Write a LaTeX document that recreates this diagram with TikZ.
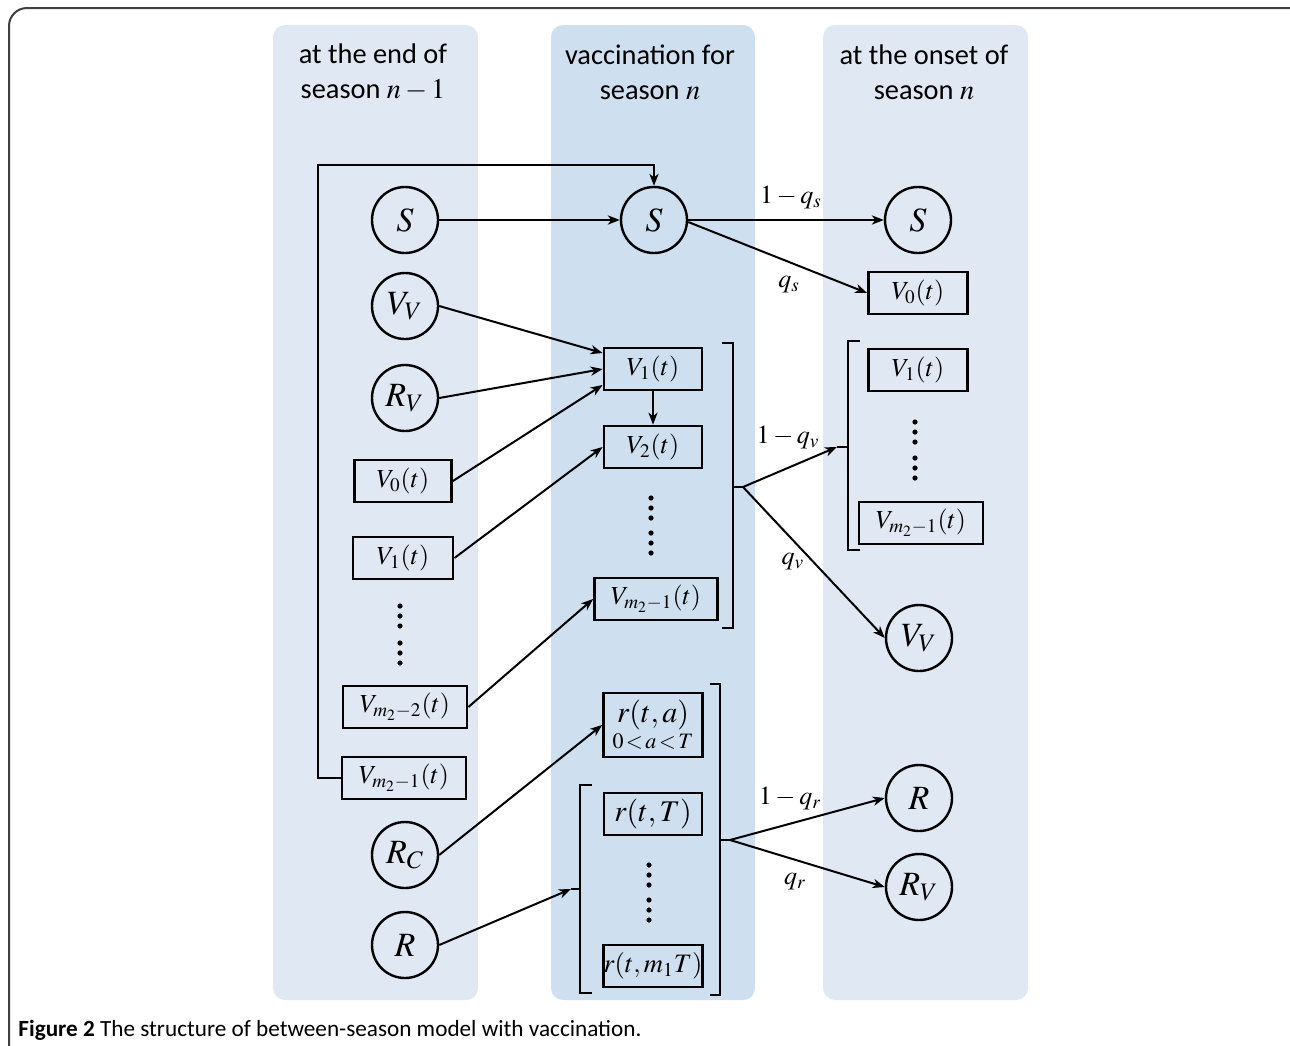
\documentclass[tikz,border=0pt]{standalone}
\usepackage{mathptmx}
\usepackage[no-math]{fontspec}
\setmainfont{Liberation Serif}
\newfontfamily\calib{Carlito}
\usetikzlibrary{arrows.meta}
\definecolor{panelA}{RGB}{223,232,243}
\definecolor{panelB}{RGB}{206,223,240}
\tikzset{
  circ/.style={circle, draw, line width=1.2pt, minimum size=33pt, inner sep=0pt, font=\fontsize{17}{20}\selectfont},
  bx/.style={rectangle, draw, line width=1.4pt, minimum height=21pt, minimum width=49pt, inner sep=1pt, font=\fontsize{13}{15}\selectfont},
  rbx/.style={bx, font=\fontsize{15}{17}\selectfont},
  lab/.style={inner sep=0pt, font=\fontsize{13}{15}\selectfont},
  head/.style={align=center, font=\calib\fontsize{14.2}{17.5}\selectfont},
  arr/.style={line width=1pt, -{Stealth[length=6pt,width=4.6pt,inset=1.8pt]}},
  ln/.style={line width=1pt},
  brk/.style={line width=1.1pt},
}
\begin{document}
\begin{tikzpicture}[x=0.5pt,y=-0.5pt]
\useasboundingbox (0,0) rectangle (1290,1045);
% frame
\draw[line width=1pt, draw=black!75, rounded corners=9pt] (9,1090) rectangle (1310,8);
% panels
\fill[panelA, rounded corners=6pt] (273,25) rectangle (478,1000);
\fill[panelB, rounded corners=6pt] (551,25) rectangle (755,1000);
\fill[panelA, rounded corners=6pt] (823,25) rectangle (1028,1000);
% headers
\node[head] (h1) at (373,72) {at the end of\\season $n-1$};
\node[head] (h2) at (650,72) {vaccination for\\season $n$};
\node[head] (h3) at (924,72) {at the onset of\\season $n$};
% column 1
\node[circ] (S1) at (405,220) {$S$};
\node[circ] (VV1) at (405,306) {$V_V$};
\node[circ] (RV1) at (405,398) {$R_V$};
\node[bx, minimum width=48.5pt] (V0a) at (403,481) {$V_0(t)$};
\node[bx, minimum width=50pt] (V1a) at (403,558) {$V_1(t)$};
\node[bx, minimum width=62pt] (Vm2a) at (405,707) {$V_{m_2-2}(t)$};
\node[bx, minimum width=62pt] (Vm1a) at (404,778) {$V_{m_2-1}(t)$};
\node[circ] (RC1) at (405,855) {$R_C$};
\node[circ] (R1) at (405,945) {$R$};
\foreach \y in {606,616,626,643,653,663} \fill (400,\y) circle (1.3pt);
% column 2
\node[circ] (S2) at (654,220) {$S$};
\node[bx] (V1b) at (653,369) {$V_1(t)$};
\node[bx] (V2b) at (653,447) {$V_2(t)$};
\node[bx, minimum width=61.5pt] (Vmb) at (656,599) {$V_{m_2-1}(t)$};
\node[rbx, minimum width=49.5pt, minimum height=32pt, align=center, inner sep=0pt] (rta) at (653,725) {$r(t,a)$\\[-4pt]{\fontsize{11}{12}\selectfont $0\!<\!a\!<\!T$}};
\node[rbx] (rtT) at (653,814) {$r(t,T)$};
\node[bx, minimum width=49.5pt, inner sep=0pt, font=\fontsize{13.3}{15}\selectfont] (rtm) at (653,966) {$r(t,m_1T)$};
\foreach \y in {498,508,518,533,543,553} \fill (651,\y) circle (1.3pt);
\foreach \y in {865,875,885,900,910,920} \fill (649,\y) circle (1.3pt);
% column 3
\node[circ] (S3) at (918,220) {$S$};
\node[bx, minimum width=49.5pt] (V0c) at (918,293) {$V_0(t)$};
\node[bx, minimum width=49.5pt] (V1c) at (918,370) {$V_1(t)$};
\node[bx, minimum width=62pt] (Vmc) at (921,523) {$V_{m_2-1}(t)$};
\node[circ] (VV3) at (919,638) {$V_V$};
\node[circ] (R3) at (919,798) {$R$};
\node[circ] (RV3) at (919,887) {$R_V$};
\foreach \y in {422,432,442,458,468,478} \fill (915,\y) circle (1.3pt);
% brackets
\draw[brk] (722,343) -- (733,343) -- (733,628) -- (722,628);
\draw[brk] (860,341) -- (848,341) -- (848,550) -- (860,550);
\draw[brk] (710,684) -- (720,684) -- (720,995) -- (710,995);
\draw[brk] (592,785) -- (580,785) -- (580,993) -- (592,993);
\coordinate (bvm) at (733,487);
\coordinate (fv) at (743,487);
\coordinate (tq3) at (837,447);
\coordinate (b3m) at (848,447);
\coordinate (brm) at (720,840);
\coordinate (fr) at (730,840);
\coordinate (tr2) at (571,889);
\coordinate (b2m) at (580,889);
\coordinate (lp) at (318,165);
% connectors
\draw[arr] (Vm1a.west) -| (lp) -| (S2.north);
\draw[arr] (S1.east) -- (S2.west);
\draw[arr] (S2.east) -- (S3.west);
\draw[arr] ([yshift=-1pt]S2.east) -- (V0c.west);
\draw[arr] (VV1.east) -- ([yshift=8pt]V1b.west);
\draw[arr] (RV1.east) -- (V1b.west);
\draw[arr] (V0a.east) -- ([yshift=-8pt]V1b.west);
\draw[arr] (V1a.east) -- (V2b.west);
\draw[arr] (V1b.south) -- (V2b.north);
\draw[arr] (Vm2a.east) -- (Vmb.west);
\draw[arr] (RC1.east) -- (rta.west);
\draw[arr] (R1.east) -- (tr2);
\draw[ln] (tr2) -- (b2m);
\draw[ln] (bvm) -- (fv);
\draw[arr] (fv) -- (tq3);
\draw[ln] (tq3) -- (b3m);
\draw[arr] (fv) -- (VV3.west);
\draw[ln] (brm) -- (fr);
\draw[arr] (fr) -- (R3.west);
\draw[arr] (fr) -- (RV3.west);
% labels
\node[lab] (l1) at (791,198) {$1-q_s$};
\node[lab] (l2) at (789,285) {$q_s$};
\node[lab] (l3) at (788,438) {$1-q_v$};
\node[lab] (l4) at (793,562) {$q_v$};
\node[lab] (l5) at (790,799) {$1-q_r$};
\node[lab] (l6) at (795,882) {$q_r$};
% caption
\node[anchor=base west, inner sep=0pt, font=\calib\fontsize{11.6}{13}\selectfont] (cap) at (18,1036) {\textbf{Figure 2} The structure of between-season model with vaccination.};
\end{tikzpicture}
\end{document}
